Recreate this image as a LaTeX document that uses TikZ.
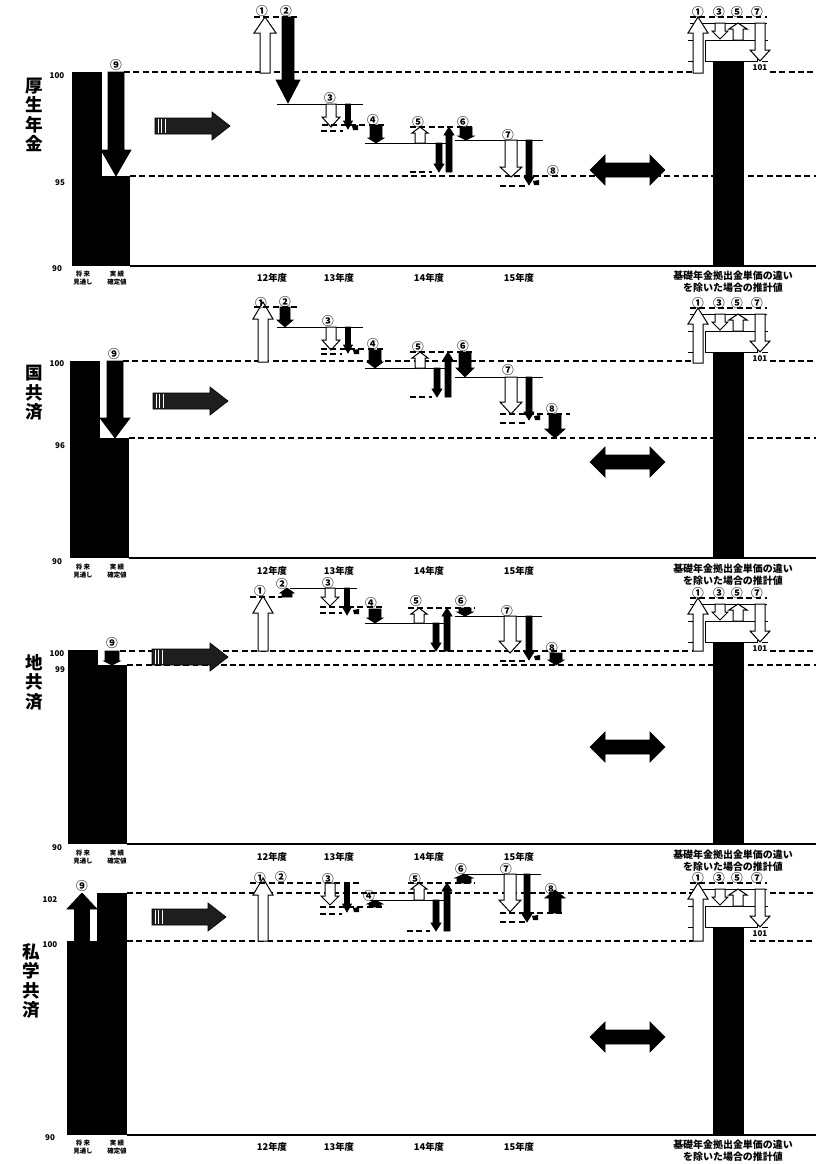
\documentclass[tikz,border=0pt]{standalone}
\usepackage{fontspec}
\newfontfamily\jp{Noto Sans CJK JP}
\usetikzlibrary{calc}
\definecolor{hatchgray}{RGB}{30,30,30}
\tikzstyle{refline}=[draw=black,line width=0.35mm,dash pattern=on 5pt off 3pt]
\tikzstyle{stepline}=[draw=black,line width=0.3mm]
\tikzstyle{axisline}=[draw=black,line width=0.45mm]
\tikzstyle{whitearrow}=[draw=black,fill=white,line width=0.3mm]
\tikzstyle{blackarrow}=[draw=black,fill=black,line width=0.2mm]
\tikzstyle{hatcharrow}=[draw=black,fill=hatchgray,line width=0.2mm]
\tikzstyle{titlelabel}=[font=\jp\bfseries\fontsize{15}{16.6}\selectfont,align=center,inner sep=0pt]
\tikzstyle{circnum}=[font=\jp\bfseries\fontsize{10}{10}\selectfont,inner sep=0pt]
\tikzstyle{ticklabel}=[font=\jp\bfseries\fontsize{6.8}{7}\selectfont,inner sep=0pt]
\tikzstyle{yearlabel}=[font=\jp\bfseries\fontsize{8}{9}\selectfont,inner sep=0pt]
\tikzstyle{tinylabel}=[font=\jp\bfseries\fontsize{5.5}{7.5}\selectfont,align=center,inner sep=0pt]
\tikzstyle{notelabel}=[font=\jp\bfseries\fontsize{8.5}{10.5}\selectfont,align=center,inner sep=0pt]

% x, y from, y to, shaft half width, head half width, head length
\newcommand{\vblock}[7]{%
  \pgfmathsetmacro{\arrbase}{(#4)-(#7)*sign((#4)-(#3))}
  \draw[#1] (#2-#5,#3) -- (#2-#5,\arrbase) -- (#2-#6,\arrbase) -- (#2,#4)
    -- (#2+#6,\arrbase) -- (#2+#5,\arrbase) -- (#2+#5,#3) -- cycle;
}
\newcommand{\rightblock}[3]{%
  \draw[hatcharrow] (#1,#3-8) -- (#2-18,#3-8) -- (#2-18,#3-14) -- (#2,#3)
    -- (#2-18,#3+14) -- (#2-18,#3+8) -- (#1,#3+8) -- cycle;
  \foreach \s in {3,6,10}
    \draw[white,line width=0.3mm] (#1+\s,#3-7) -- (#1+\s,#3+7);
}
\newcommand{\twoheadblock}[1]{%
  \draw[blackarrow] (590,#1) -- (605,#1-15) -- (605,#1-7) -- (650,#1-7) -- (650,#1-15)
    -- (665,#1) -- (650,#1+15) -- (650,#1+7) -- (605,#1+7) -- (605,#1+15) -- cycle;
}
\newcommand{\smallmark}[2]{\fill (#1-3,#2-2) -- (#1+3,#2-3) -- (#1+3,#2+2) -- (#1-2,#2+2) -- cycle;}
\newcommand{\stepnum}[1]{\ifcase#1 ⓪\or ①\or ②\or ③\or ④\or ⑤\or ⑥\or ⑦\or ⑧\or ⑨\fi}
% right hand estimate: top line, base of (1), bottom of axis, tag
\newcommand{\estimate}[4]{%
  \draw[refline] (690,#1) -- (767,#1);
  \draw[stepline] (690,#1+6) -- (767,#1+6);
  \draw[stepline] (688,#1+23) -- (694,#1+23) (762,#1+23) -- (768,#1+23);
  \draw[stepline] (688,#1+44) -- (694,#1+44) (762,#1+44) -- (768,#1+44);
  \draw[stepline,fill=white] (705,#1+23) rectangle (757,#1+44);
  \fill (713,#1+44) rectangle (744,#3);
  \vblock{whitearrow}{698}{#2}{#1}{5}{10}{16}
  \vblock{whitearrow}{720}{#1+6}{#1+22}{5}{8}{8}
  \vblock{whitearrow}{738}{#1+23}{#1+6}{5}{9}{6}
  \vblock{whitearrow}{760}{#1+6}{#1+44}{5}{10}{11}
  \foreach \i/\x in {1/698,3/719,5/737,7/757}
    \node[circnum] (#4est\i) at (\x,#1-5) {\stepnum{\i}};
  \node[ticklabel] (#4est101) at (760,#1+51) {101};
}
% labels under the axis: y, tag
\newcommand{\yearrow}[2]{%
  \node[tinylabel] (#2plan) at (83,#1) {将\ 来\\見通し};
  \node[tinylabel] (#2fixed) at (117,#1) {実\ 績\\確定値};
  \foreach \yr/\x in {12/272,13/339,14/429,15/519}
    \node[yearlabel] (#2year\yr) at (\x,#1) {\yr 年度};
  \node[notelabel] (#2note) at (733,#1+4) {基礎年金拠出金単価の違い\\を除いた場合の推計値};
}

\begin{document}
\begin{tikzpicture}[x=0.03cm,y=-0.03cm]
  \useasboundingbox (0,0) rectangle (816,1164);

  % 厚生年金
  \node[titlelabel] (kosei) at (34,115) {厚\\生\\年\\金};
  \node[ticklabel] (kosei100) at (57,76) {100};
  \node[ticklabel] (kosei95) at (60,183) {95};
  \node[ticklabel] (kosei90) at (57,269) {90};
  \draw[refline] (124,72) -- (693,72) (770,72) -- (816,72);
  \draw[refline] (130,176) -- (713,176) (748,176) -- (816,176);
  \draw[axisline] (130,266) -- (816,266);
  \fill (72,72) rectangle (102,266);
  \fill (102,176) rectangle (130,266);
  \vblock{blackarrow}{116}{72}{176}{8}{15}{26}
  \node[circnum] (kosei9) at (116,65) {⑨};
  \rightblock{155}{230}{126}
  \vblock{whitearrow}{265}{73}{17}{5}{11}{16}
  \draw[refline] (254,17) -- (298,17);
  \vblock{blackarrow}{288}{17}{103}{6}{12}{23}
  \draw[stepline] (277,104) -- (363,104);
  \vblock{whitearrow}{331}{104}{127}{5}{9}{10}
  \vblock{blackarrow}{348}{104}{129}{2.5}{4.5}{8}
  \smallmark{355}{128}
  \draw[refline] (322,125) -- (385,125);
  \draw[refline] (321,131) -- (343,131);
  \vblock{blackarrow}{376}{125}{143}{6}{8}{5}
  \draw[stepline] (365,143) -- (450,143);
  \vblock{whitearrow}{420}{143}{127}{5}{8}{6}
  \draw[refline] (410,127) -- (475,127);
  \vblock{blackarrow}{439}{143}{172}{3}{5}{8}
  \draw[refline] (410,172) -- (432,172);
  \vblock{blackarrow}{449}{172}{127}{3}{5}{8}
  \vblock{blackarrow}{466}{127}{140}{6}{8}{4}
  \draw[stepline] (455,140) -- (543,140);
  \vblock{whitearrow}{511}{140}{177}{6}{11}{10}
  \vblock{blackarrow}{529}{140}{185}{3}{5}{8}
  \smallmark{536}{183}
  \draw[refline] (500,186) -- (525,186);
  \foreach \i/\x/\y in {1/262/11,2/286/11,3/330/98,4/373/120,5/418/122,6/463/122,7/508/135,8/553/171}
    \node[circnum] (kosei\i) at (\x,\y) {\stepnum{\i}};
  \twoheadblock{170}
  \estimate{17}{73}{266}{kosei}
  \yearrow{278}{kosei}

  % 国共済
  \node[titlelabel] (kuni) at (34,393) {国\\共\\済};
  \node[ticklabel] (kuni100) at (57,364) {100};
  \node[ticklabel] (kuni96) at (60,446) {96};
  \node[ticklabel] (kuni90) at (57,562) {90};
  \draw[refline] (123,361) -- (693,361) (770,361) -- (816,361);
  \draw[refline] (129,438) -- (713,438) (748,438) -- (816,438);
  \draw[axisline] (129,558) -- (816,558);
  \fill (70,361) rectangle (100,558);
  \fill (100,438) rectangle (129,558);
  \vblock{blackarrow}{115}{361}{438}{8}{15}{20}
  \node[circnum] (kuni9) at (114,354) {⑨};
  \rightblock{153}{228}{401}
  \vblock{whitearrow}{263}{362}{302}{5}{10}{17}
  \draw[refline] (254,307) -- (298,307);
  \vblock{blackarrow}{285}{307}{327}{5}{8}{7}
  \draw[stepline] (277,327) -- (363,327);
  \vblock{whitearrow}{331}{327}{350}{5}{9}{10}
  \vblock{blackarrow}{348}{327}{353}{2.5}{4.5}{8}
  \smallmark{356}{352}
  \draw[refline] (321,349) -- (385,349);
  \draw[refline] (321,354) -- (342,354);
  \vblock{blackarrow}{375}{350}{368}{6}{8}{6}
  \draw[stepline] (365,368) -- (445,368);
  \vblock{whitearrow}{420}{368}{352}{5}{8}{6}
  \draw[refline] (410,352) -- (475,352);
  \vblock{blackarrow}{437}{368}{397}{3}{5}{8}
  \draw[refline] (410,397) -- (432,397);
  \vblock{blackarrow}{448}{397}{352}{3}{5}{8}
  \vblock{blackarrow}{465}{352}{377}{6}{9}{9}
  \draw[stepline] (455,377) -- (543,377);
  \vblock{whitearrow}{511}{377}{414}{6}{11}{12}
  \vblock{blackarrow}{529}{377}{420}{3}{5}{8}
  \smallmark{537}{418}
  \draw[refline] (500,414) -- (570,414);
  \draw[refline] (500,423) -- (525,423);
  \vblock{blackarrow}{555}{414}{438}{6}{10}{9}
  \foreach \i/\x/\y in {1/261/303,2/285/302,3/328/321,4/373/344,5/418/347,6/463/346,7/508/370,8/552/409}
    \node[circnum] (kuni\i) at (\x,\y) {\stepnum{\i}};
  \twoheadblock{462}
  \estimate{308}{363}{558}{kuni}
  \yearrow{571}{kuni}

  % 地共済
  \node[titlelabel] (chi) at (34,682) {地\\共\\済};
  \node[ticklabel] (chi100) at (57,654) {100};
  \node[ticklabel] (chi99) at (60,670) {99};
  \node[ticklabel] (chi90) at (57,848) {90};
  \draw[refline] (120,651) -- (693,651) (770,651) -- (816,651);
  \draw[refline] (127,665) -- (713,665) (748,665) -- (816,665);
  \draw[axisline] (127,844) -- (816,844);
  \fill (68,650) rectangle (98,844);
  \fill (98,665) rectangle (127,844);
  \vblock{blackarrow}{112}{651}{665}{7}{8}{4}
  \node[circnum] (chi9) at (112,643) {⑨};
  \rightblock{152}{228}{657}
  \vblock{whitearrow}{263}{651}{596}{5}{10}{17}
  \draw[refline] (250,597) -- (282,597);
  \vblock{blackarrow}{287}{597}{588}{5}{7}{5}
  \draw[stepline] (290,588) -- (357,588);
  \vblock{whitearrow}{330}{588}{606}{5}{9}{9}
  \vblock{blackarrow}{347}{588}{615}{2.5}{4.5}{8}
  \smallmark{356}{612}
  \draw[refline] (320,607) -- (385,607);
  \draw[refline] (320,613) -- (342,613);
  \vblock{blackarrow}{375}{609}{623}{6}{8}{5}
  \draw[stepline] (365,623) -- (445,623);
  \vblock{whitearrow}{419}{623}{608}{5}{8}{6}
  \draw[refline] (408,608) -- (475,608);
  \vblock{blackarrow}{436}{623}{651}{3}{5}{8}
  \vblock{blackarrow}{447}{651}{608}{3}{5}{8}
  \vblock{blackarrow}{465}{608}{616}{6}{8}{4}
  \draw[stepline] (455,616) -- (542,616);
  \vblock{whitearrow}{510}{616}{653}{6}{11}{12}
  \vblock{blackarrow}{529}{616}{660}{3}{5}{8}
  \smallmark{537}{658}
  \draw[refline] (500,661) -- (525,661);
  \vblock{blackarrow}{556}{653}{665}{6}{8}{5}
  \foreach \i/\x/\y in {1/260/591,2/282/584,3/328/583,4/371/603,5/416/601,6/461/601,7/507/611,8/552/648}
    \node[circnum] (chi\i) at (\x,\y) {\stepnum{\i}};
  \twoheadblock{747}
  \estimate{598}{651}{844}{chi}
  \yearrow{857}{chi}

  % 私学共済
  \node[titlelabel] (shigaku) at (31,981) {私\\学\\共\\済};
  \node[ticklabel] (shigaku102) at (50,900) {102};
  \node[ticklabel] (shigaku100) at (50,945) {100};
  \node[ticklabel] (shigaku90) at (50,1138) {90};
  \draw[refline] (127,893) -- (693,893) (770,893) -- (816,893);
  \draw[refline] (127,941) -- (693,941) (750,941) -- (816,941);
  \draw[axisline] (127,1135) -- (816,1135);
  \fill (67,941) rectangle (97,1135);
  \fill (97,893) rectangle (127,1135);
  \vblock{blackarrow}{82}{941}{893}{7.5}{15}{16}
  \node[circnum] (shigaku9) at (82,886) {⑨};
  \rightblock{152}{226}{917}
  \vblock{whitearrow}{263}{941}{878}{5}{10}{17}
  \draw[refline] (250,883) -- (360,883);
  \vblock{whitearrow}{330}{883}{905}{5}{9}{9}
  \vblock{blackarrow}{347}{883}{912}{2.5}{4.5}{8}
  \smallmark{356}{910}
  \draw[refline] (320,907) -- (385,907);
  \draw[refline] (320,914) -- (342,914);
  \vblock{blackarrow}{375}{907}{900}{6}{8}{4}
  \draw[stepline] (370,900) -- (445,900);
  \vblock{whitearrow}{419}{900}{883}{5}{8}{6}
  \draw[refline] (408,883) -- (475,883);
  \vblock{blackarrow}{436}{900}{931}{3}{5}{8}
  \draw[refline] (407,931) -- (430,931);
  \vblock{blackarrow}{447}{931}{883}{3}{5}{8}
  \vblock{blackarrow}{464}{883}{874}{7}{9}{4}
  \draw[stepline] (462,874) -- (541,874);
  \vblock{whitearrow}{510}{874}{912}{6}{11}{12}
  \vblock{blackarrow}{527}{874}{922}{3}{5}{8}
  \smallmark{535}{918}
  \draw[refline] (500,913) -- (565,913);
  \draw[refline] (500,922) -- (525,922);
  \vblock{blackarrow}{555}{913}{890}{6}{10}{8}
  \foreach \i/\x/\y in {1/260/878,2/281/877,3/328/879,4/369/896,5/415/879,6/461/869,7/506/869,8/551/889}
    \node[circnum] (shigaku\i) at (\x,\y) {\stepnum{\i}};
  \twoheadblock{1037}
  \estimate{883}{941}{1135}{shigaku}
  \yearrow{1147}{shigaku}
\end{tikzpicture}
\end{document}
